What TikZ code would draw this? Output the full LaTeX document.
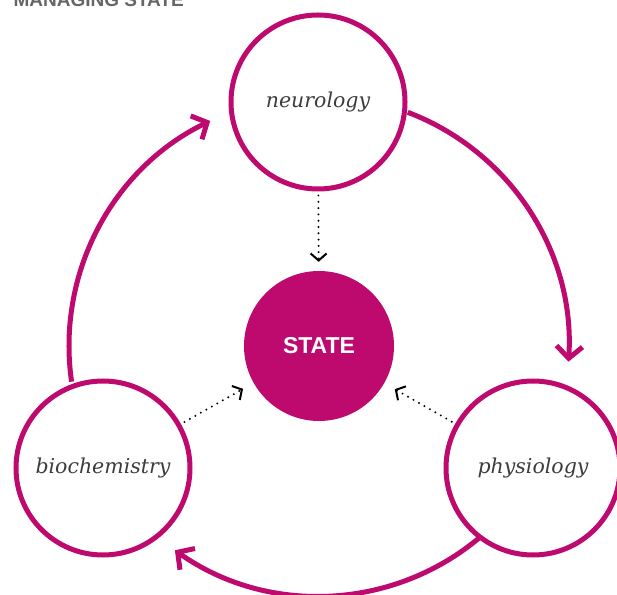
\documentclass[tikz,border=0pt]{standalone}
\usepackage{fontspec}
\setmainfont{DejaVu Serif}
\newfontfamily\labelsans{Liberation Sans}
\usetikzlibrary{arrows.meta}
\definecolor{mag}{RGB}{190,10,110}
\definecolor{labgrey}{RGB}{60,60,60}
\definecolor{titlegrey}{RGB}{102,102,102}
\tikzset{
  ring/.style={circle,draw=mag,line width=5pt,minimum size=174pt,inner sep=0pt,
    font=\fontsize{20.5}{24}\selectfont\itshape,text=labgrey},
  core/.style={circle,fill=mag,minimum size=150pt,inner sep=0pt,
    font=\labelsans\bfseries\fontsize{23}{26}\selectfont,text=white},
  cycle/.style={draw=mag,line width=5pt,-{Straight Barb[length=12pt,width=26pt]}},
  feed/.style={draw=black,line width=2.2pt,line cap=round,dash pattern=on 0pt off 6.3pt,
    -{Straight Barb[length=7pt,width=16pt,line width=2pt]}}
}
\begin{document}
\begin{tikzpicture}[x=1pt,y=1pt]
\useasboundingbox (0,0) rectangle (617,594);
\clip (0,0) rectangle (617,594);
\node[anchor=base west,font=\labelsans\bfseries\fontsize{19}{22}\selectfont,text=titlegrey] (title) at (10,587) {MANAGING STATE};
\node[core] (state) at (319,248) {STATE};
\node[ring] (neuro) at (318,492) {neurology};
\node[ring] (bio) at (103,126) {biochemistry};
\node[ring] (phys) at (533,126) {physiology};
\coordinate (hub) at (319,248);
\draw[cycle] (hub) ++(188.2:250) arc[start angle=188.2,end angle=115.8,radius=250];
\draw[cycle] (hub) ++(69.2:250) arc[start angle=69.2,end angle=-3.6,radius=250];
\draw[cycle] (hub) ++(-50.3:250) arc[start angle=-50.3,end angle=-125.2,radius=250];
\draw[feed,shorten <=4pt,shorten >=9pt] (neuro) -- (state);
\draw[feed,shorten <=4pt,shorten >=12pt] (bio) -- (state);
\draw[feed,shorten <=4pt,shorten >=12pt] (phys) -- (state);
\end{tikzpicture}
\end{document}
